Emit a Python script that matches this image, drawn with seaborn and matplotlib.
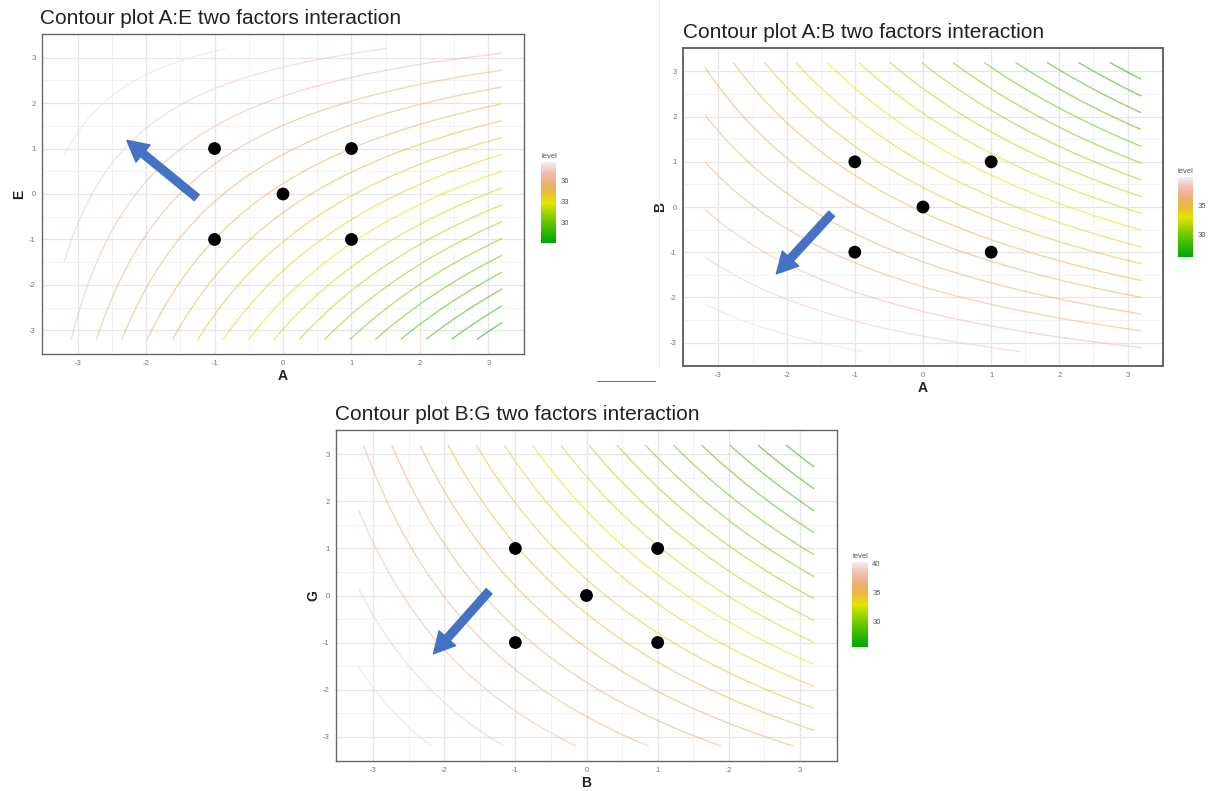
import colorsys
import numpy as np
import pandas as pd
import matplotlib
matplotlib.use("Agg")
import matplotlib.pyplot as plt
import matplotlib.colors as mcolors
from matplotlib.cm import ScalarMappable
from matplotlib.lines import Line2D
import seaborn as sns

# ---------------- data ----------------
grid_limits = [-3.2, 3.2]
design_x = [-1, 1, 0, -1, 1]
design_y = [1, 1, 0, -1, -1]

# fitted surface: z = intercept + x*bx + y*by + xy*bxy
ae_coef = {"intercept": 34.9, "x": -0.905, "y": 0.905, "xy": 0.206}
ab_coef = {"intercept": 34.9, "x": -0.90, "y": -1.26, "xy": -0.188}
bg_coef = {"intercept": 34.8, "x": -1.28, "y": -1.00, "xy": -0.176}

n_levels = 21
ae_cbar_ticks = [30, 33, 36]
ab_cbar_ticks = [30, 35]
bg_cbar_ticks = [30, 35, 40]
axis_ticks = [-3, -2, -1, 0, 1, 2, 3]

ae_arrow = [(-1.26, -0.08), (-2.28, 1.18)]
ab_arrow = [(-1.34, -0.15), (-2.15, -1.48)]
bg_arrow = [(-1.37, 0.09), (-2.15, -1.24)]

titles = ["Contour plot A:E two factors interaction",
          "Contour plot A:B two factors interaction",
          "Contour plot B:G two factors interaction"]
xlabels = ["A", "A", "B"]
ylabels = ["E", "B", "G"]

# ---------------- style ----------------
sns.set_style("white")
plt.rcParams["font.family"] = ["Liberation Sans", "DejaVu Sans"]
plt.rcParams["axes.unicode_minus"] = False

W, H = 1213, 791
fig = plt.figure(figsize=(W / 100, H / 100), dpi=100)


def terrain_cmap(n=256):
    k = n // 2
    cols = []
    for h, v in zip(np.linspace(4 / 12, 2 / 12, k), np.linspace(0.65, 0.9, k)):
        cols.append(colorsys.hsv_to_rgb(h, 1.0, v))
    m = n - k + 1
    hs = np.linspace(2 / 12, 0, m)[1:]
    ss = np.linspace(1, 0, m)[1:]
    vs = np.linspace(0.9, 0.95, m)[1:]
    for h, s, v in zip(hs, ss, vs):
        cols.append(colorsys.hsv_to_rgb(h, s, v))
    return mcolors.ListedColormap(cols)


cmap = terrain_cmap()


def px_rect(x0, y0, x1, y1):
    return [x0 / W, 1 - y1 / H, (x1 - x0) / W, (y1 - y0) / H]


def panel(rect, cbar_rect, coef, ticks_cb, arrow, title, title_xy, xl, yl,
          border_lw=1.0):
    ax = fig.add_axes(px_rect(*rect))
    g = np.linspace(grid_limits[0], grid_limits[1], 300)
    X, Y = np.meshgrid(g, g)
    Z = coef["intercept"] + coef["x"] * X + coef["y"] * Y + coef["xy"] * X * Y
    zmin, zmax = Z.min(), Z.max()
    levels = np.linspace(zmin, zmax, n_levels)[1:-1]
    norm = mcolors.Normalize(vmin=zmin, vmax=zmax)

    ax.set_xlim(-3.52, 3.52)
    ax.set_ylim(-3.52, 3.52)
    ax.set_xticks(axis_ticks)
    ax.set_yticks(axis_ticks)
    ax.set_xticks([-2.5, -1.5, -0.5, 0.5, 1.5, 2.5], minor=True)
    ax.set_yticks([-2.5, -1.5, -0.5, 0.5, 1.5, 2.5], minor=True)
    ax.grid(True, which="major", color="#e6e6e6", lw=0.9)
    ax.grid(True, which="minor", color="#f0f0f0", lw=0.6)
    ax.set_axisbelow(True)
    ax.tick_params(which="major", labelsize=5.5, labelcolor="#777777",
                   color="#888888", length=2.5, width=0.6, pad=2)
    ax.tick_params(which="minor", length=0)
    for s in ax.spines.values():
        s.set_color("#666666")
        s.set_linewidth(border_lw)

    ax.contour(X, Y, Z, levels=levels, cmap=cmap, norm=norm,
               linewidths=1.0, alpha=0.55)

    df = pd.DataFrame({"x": design_x, "y": design_y})
    sns.scatterplot(data=df, x="x", y="y", color="black", s=85,
                    edgecolor="none", ax=ax, zorder=5, legend=False)

    ax.annotate("", xy=arrow[1], xytext=arrow[0],
                arrowprops=dict(arrowstyle="simple,head_length=0.75,head_width=0.8,tail_width=0.28",
                                mutation_scale=20, color="#4472C4",
                                shrinkA=0, shrinkB=0), zorder=6)

    ax.set_xlabel(xl, fontsize=10, fontweight="bold", labelpad=1, color="#222222")
    ax.set_ylabel(yl, fontsize=10, fontweight="bold", labelpad=2, color="#222222")

    fig.text(title_xy[0] / W, 1 - title_xy[1] / H, title, fontsize=15,
             color="#222222", va="center", ha="left")

    cax = fig.add_axes(px_rect(*cbar_rect))
    cb = fig.colorbar(ScalarMappable(norm=norm, cmap=cmap), cax=cax)
    cb.outline.set_visible(False)
    cb.set_ticks(ticks_cb)
    cax.tick_params(labelsize=5.5, labelcolor="#555555", color="white",
                    direction="in", length=3, width=0.6, pad=3)
    cax.set_title("level", fontsize=5.5, color="#555555", loc="left", pad=3)
    return ax


panel((42, 34, 524, 354), (541, 162, 556, 243), ae_coef, ae_cbar_ticks,
      ae_arrow, titles[0], (40, 18), xlabels[0], ylabels[0])
panel((683, 48, 1163, 366), (1178, 177, 1193, 257), ab_coef, ab_cbar_ticks,
      ab_arrow, titles[1], (683, 33), xlabels[1], ylabels[1], border_lw=1.4)
panel((336, 430, 837, 761), (852, 562, 868, 647), bg_coef, bg_cbar_ticks,
      bg_arrow, titles[2], (335, 414), xlabels[2], ylabels[2])

# small stray separator lines of the composite
fig.add_artist(Line2D([597 / W, 655 / W], [1 - 381 / H, 1 - 381 / H],
                      color="#777777", lw=0.8))
fig.add_artist(Line2D([659 / W, 659 / W], [1 - 368 / H, 1.0],
                      color="#ececec", lw=0.8))

fig.savefig("out.png", dpi=100)
